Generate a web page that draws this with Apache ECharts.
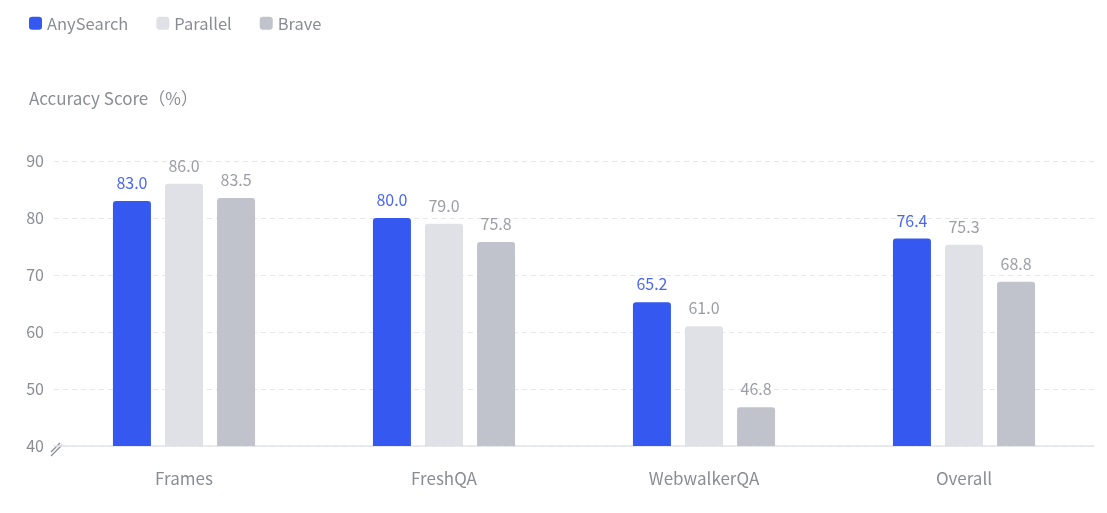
<!DOCTYPE html>
<html>
<head>
<meta charset="utf-8">
<script src="https://cdn.jsdelivr.net/npm/echarts@6/dist/echarts.min.js"></script>
<style>
  html, body { margin: 0; padding: 0; background: #fff; }
  #chart { width: 1107px; height: 513px; }
</style>
</head>
<body>
<div id="chart"></div>
<script>
// 数据
const categories = ['Frames', 'FreshQA', 'WebwalkerQA', 'Overall'];
const anySearch = [83.0, 80.0, 65.2, 76.4];
const parallel = [86.0, 79.0, 61.0, 75.3];
const brave = [83.5, 75.8, 46.8, 68.8];
const yTicks = [40, 50, 60, 70, 80, 90];

const fontFamily = '"Noto Sans CJK SC", "Noto Sans", sans-serif';
const grayText = '#8b8d95';

function makeSeries(name, data, color, labelColor) {
    return {
        name: name,
        type: 'bar',
        data: data,
        barWidth: 38,
        barGap: '37%',
        itemStyle: { color: color, borderRadius: [3, 3, 0, 0] },
        label: {
            show: true,
            position: 'top',
            distance: 10,
            color: labelColor,
            fontSize: 16,
            fontFamily: fontFamily,
            formatter: p => p.value.toFixed(1)
        }
    };
}

const chart = echarts.init(document.getElementById('chart'));
const option = {
    animation: false,
    textStyle: { fontFamily: fontFamily },
    legend: {
        left: 24,
        top: 10,
        itemWidth: 13,
        itemHeight: 13,
        itemGap: 28,
        icon: 'roundRect',
        textStyle: { fontSize: 16.5, color: grayText, fontFamily: fontFamily },
        data: ['AnySearch', 'Parallel', 'Brave']
    },
    grid: { left: 54, right: 13, top: 161, bottom: 67 },
    xAxis: {
        type: 'category',
        data: categories,
        axisLine: { lineStyle: { color: '#e3e5ea', width: 1.5 } },
        axisTick: { show: false },
        axisLabel: { color: grayText, fontSize: 17, margin: 24, fontFamily: fontFamily }
    },
    yAxis: {
        type: 'value',
        min: yTicks[0],
        max: yTicks[yTicks.length - 1],
        interval: 10,
        name: 'Accuracy Score（%）',
        nameLocation: 'end',
        nameGap: 54,
        nameTextStyle: { color: grayText, fontSize: 17, align: 'left', padding: [0, 0, 0, -25], fontFamily: fontFamily },
        axisLine: { show: false },
        axisTick: { show: false },
        axisLabel: { color: grayText, fontSize: 16, margin: 10, fontFamily: fontFamily },
        splitLine: { lineStyle: { color: '#e6e7eb', type: [5, 4] } }
    },
    series: [
        makeSeries('AnySearch', anySearch, '#3558f0', '#4a66f2'),
        makeSeries('Parallel', parallel, '#e0e1e6', '#9c9ea6'),
        makeSeries('Brave', brave, '#c0c3cb', '#9c9ea6')
    ]
};
chart.setOption(option);

// 坐标轴断裂标记 "//"
const origin = chart.convertToPixel({ gridIndex: 0 }, [0, yTicks[0]]);
const ox = 56, oy = origin[1];
chart.setOption({
    graphic: [
        { type: 'line', shape: { x1: ox - 5, y1: oy + 6, x2: ox + 4, y2: oy - 3 }, style: { stroke: '#8b8d95', lineWidth: 1.2 } },
        { type: 'line', shape: { x1: ox - 5, y1: oy + 10, x2: ox + 6, y2: oy - 1 }, style: { stroke: '#8b8d95', lineWidth: 1.2 } }
    ]
});
</script>
</body>
</html>
